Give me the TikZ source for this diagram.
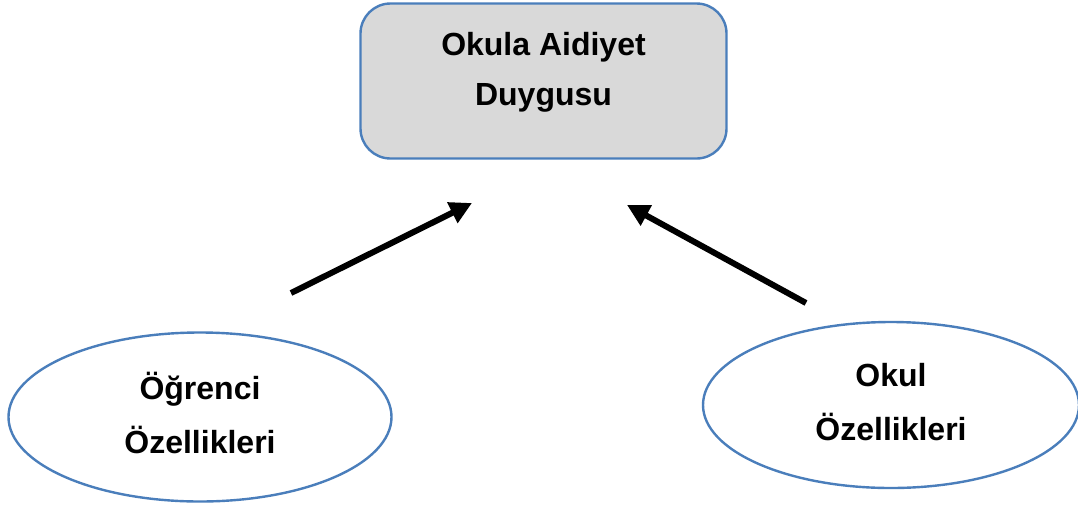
\documentclass[tikz,border=0pt]{standalone}
\usepackage{fontspec}
\setmainfont{Liberation Sans}
\usetikzlibrary{shapes.geometric,arrows.meta}
\definecolor{edgeblue}{HTML}{4A7EBB}
\definecolor{boxgray}{HTML}{D9D9D9}
\begin{document}
\begin{tikzpicture}[x=1pt,y=-1pt,
  lbl/.style={text=black, inner sep=0pt, align=center},
  topbox/.style={lbl, font=\fontsize{32}{50}\selectfont\bfseries, draw=edgeblue, fill=boxgray, line width=2.4pt, rounded corners=30pt,
     minimum width=366pt, minimum height=155pt},
  oval/.style={lbl, font=\fontsize{32}{54}\selectfont\bfseries, ellipse, draw=edgeblue, fill=white, line width=2.4pt},
  arr/.style={line width=6pt, -{Triangle[length=22pt,width=22pt]}}]
\useasboundingbox (0,0) rectangle (1078,504);
\node[topbox, text height=75pt, text depth=26pt] (top) at (543.5,81) {Okula Aidiyet\\Duygusu};
\node[oval, text height=79pt, text depth=6pt, minimum width=383pt, minimum height=169pt] (left) at (200,417) {Öğrenci\\Özellikleri};
\node[oval, text height=79pt, text depth=9pt, minimum width=376pt, minimum height=166pt] (right) at (891,405) {Okul\\Özellikleri};
\coordinate (l1) at (291,293);
\coordinate (l2) at (472,203);
\coordinate (r1) at (806,303);
\coordinate (r2) at (627,205);
\draw[arr] (l1) -- (l2);
\draw[arr] (r1) -- (r2);
\end{tikzpicture}
\end{document}
